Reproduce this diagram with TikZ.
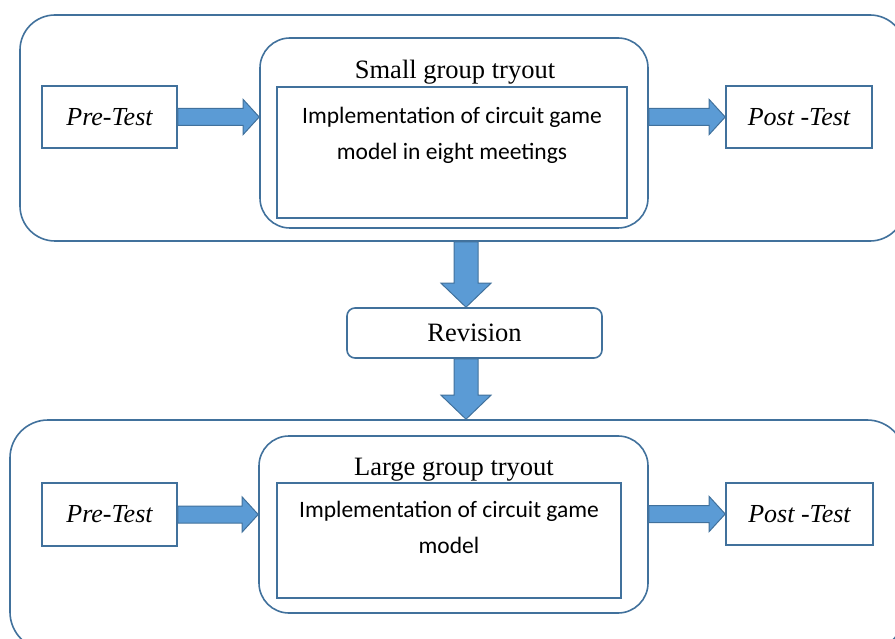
\documentclass[tikz,border=0pt]{standalone}
\usepackage{fontspec}
\setmainfont{Liberation Serif}
\newfontfamily\calibrifont{Carlito}
\usetikzlibrary{calc}
\definecolor{box_blue}{HTML}{41719C}
\definecolor{arrow_blue}{HTML}{5B9BD5}

\tikzset{
  round_box/.style={draw=box_blue, line width=1.6pt, rounded corners=#1, inner sep=0pt},
  plain_box/.style={draw=box_blue, line width=1.6pt, inner sep=0pt},
  test_box/.style={plain_box, font=\fontsize{26}{30}\selectfont\itshape},
  title_text/.style={font=\fontsize{26.5}{30}\selectfont, inner sep=0pt},
  impl_text/.style={font=\calibrifont\fontsize{23.5}{36}\selectfont, align=center, inner sep=0pt},
  block_arrow/.style={fill=arrow_blue, draw=box_blue, line width=1pt},
}

% block arrow to the right, from #1 to #2 (same height)
\newcommand{\blockright}[2]{%
  \path[block_arrow] let \p1=(#1), \p2=(#2) in
    (\x1,\y1+8.5pt) -- (\x2-16pt,\y1+8.5pt) -- (\x2-16pt,\y1+17.5pt) -- (\x2,\y1)
    -- (\x2-16pt,\y1-17.5pt) -- (\x2-16pt,\y1-8.5pt) -- (\x1,\y1-8.5pt) -- cycle;}
% block arrow downwards, from #1 to #2 (same x)
\newcommand{\blockdown}[2]{%
  \path[block_arrow] let \p1=(#1), \p2=(#2) in
    (\x1-12pt,\y1) -- (\x1-12pt,\y2+24pt) -- (\x1-25pt,\y2+24pt) -- (\x1,\y2)
    -- (\x1+25pt,\y2+24pt) -- (\x1+12pt,\y2+24pt) -- (\x1+12pt,\y1) -- cycle;}

\begin{document}
\begin{tikzpicture}[x=1pt, y=-1pt]
	\useasboundingbox (0,0) rectangle (895,639);
	\clip (0,0) rectangle (895,639);
	\coordinate (axis) at (466,0);
	% small group tryout
	\node[round_box=35pt, minimum width=885pt, minimum height=226pt] (outerA) at (462.5,128) {};
	\node[round_box=30pt, minimum width=388pt, minimum height=190pt] (smallA) at (454,133) {};
	\node[plain_box, minimum width=350pt, minimum height=131pt] (implA) at (452,152.5) {};
	\node[test_box, minimum width=135pt, minimum height=62pt] (preA) at (109.5,117) {Pre-Test};
	\node[test_box, minimum width=146pt, minimum height=62pt] (postA) at (799,117) {Post -Test};
	\node[title_text, anchor=base] (titleA) at (455,79) {Small group tryout};
	\node[impl_text, anchor=base] (textA) at (452,160) {Implementation of circuit game\\model in eight meetings};
	\blockright{preA.east}{smallA.west |- preA.east}
	\blockright{smallA.east |- postA.west}{postA.west}
	% revision
	\node[round_box=8pt, title_text, minimum width=255pt, minimum height=50pt] (rev) at (474.5,333) {Revision};
	% large group tryout
	\node[round_box=38pt, minimum width=895pt, minimum height=230pt] (outerB) at (457.5,535) {};
	\node[round_box=30pt, minimum width=389pt, minimum height=177pt] (largeB) at (453.5,524.5) {};
	\node[plain_box, minimum width=344pt, minimum height=115pt] (implB) at (449,540.5) {};
	\node[test_box, minimum width=135pt, minimum height=63pt] (preB) at (109.5,514.5) {Pre-Test};
	\node[test_box, minimum width=147pt, minimum height=62pt] (postB) at (799.5,514) {Post -Test};
	\node[title_text, anchor=base] (titleB) at (454,475) {Large group tryout};
	\node[impl_text, anchor=base] (textB) at (449,553) {Implementation of circuit game\\model};
	\blockright{preB.east}{largeB.west |- preB.east}
	\blockright{largeB.east |- postB.west}{postB.west}
	% between the two tryouts
	\blockdown{outerA.south -| axis}{rev.north -| axis}
	\blockdown{rev.south -| axis}{outerB.north -| axis}
\end{tikzpicture}
\end{document}
